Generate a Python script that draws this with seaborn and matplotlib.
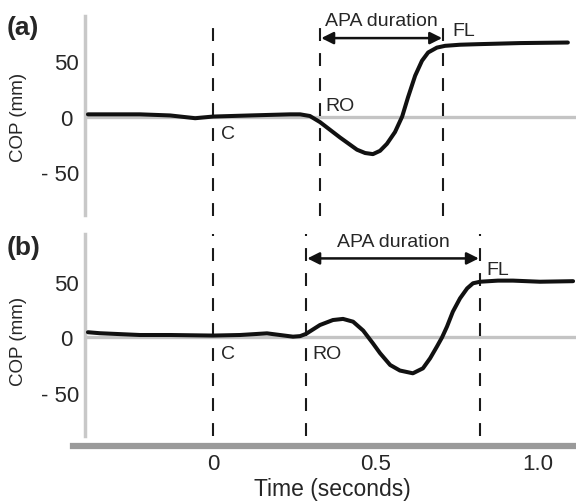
import numpy as np
import pandas as pd
import matplotlib
matplotlib.use("Agg")
import matplotlib.pyplot as plt
import seaborn as sns

# ---------------- data ----------------
t_a = [-0.385, -0.225, -0.132, -0.055, 0.0, 0.114, 0.237, 0.268, 0.298, 0.329,
       0.360, 0.391, 0.443, 0.468, 0.492, 0.514, 0.535, 0.560, 0.582, 0.600,
       0.622, 0.643, 0.662, 0.689, 0.714, 0.760, 0.815, 0.945, 1.092]
cop_a = [2, 2, 1, -1.5, 0, 1, 2, 2, 0.5, -5,
         -12, -19, -30, -33, -34, -31, -24.7, -14, 0, 17.4,
         37, 50.5, 58, 62.4, 64, 65, 65.5, 66.5, 67]

t_b = [-0.385, -0.348, -0.225, -0.132, 0.0, 0.083, 0.166, 0.206, 0.246, 0.268,
       0.286, 0.329, 0.369, 0.400, 0.431, 0.462, 0.492, 0.514, 0.545, 0.575,
       0.615, 0.646, 0.668, 0.689, 0.705, 0.720, 0.738, 0.760, 0.782, 0.800,
       0.822, 0.877, 0.923, 1.006, 1.108]
cop_b = [4.5, 3.6, 2, 2, 1.5, 2, 3.5, 2, 0.5, 1,
         3, 11, 15.5, 16.5, 14, 6, -5.5, -14.4, -25, -30,
         -32.5, -28, -19, -8.4, 0, 9.6, 23, 35, 44, 48.6,
         50, 51, 51, 50, 50.5]

events_a = {"C": 0.0, "RO": 0.329, "FL": 0.709}
events_b = {"C": 0.0, "RO": 0.286, "FL": 0.822}

y_ticks = [-50, 0, 50]
y_ticklabels = ["- 50  ", "0", "50"]
x_ticks = [0, 0.5, 1.0]
x_ticklabels = ["0", "0.5", "1.0"]

# ---------------- style ----------------
sns.set_style("white")
plt.rcParams["font.family"] = ["Liberation Sans", "DejaVu Sans"]

W, H = 576, 502
fig = plt.figure(figsize=(W / 100, H / 100), dpi=100)

def fx(px):
    return px / W

def fy(py):
    return 1 - py / H

left_px, right_px = 73, 576
xlim = (-0.431, 1.117)
spine_x = -0.394

ax_a = fig.add_axes([fx(left_px), fy(217), fx(right_px - left_px), (217 - 17) / H])
ax_b = fig.add_axes([fx(left_px), fy(447), fx(right_px - left_px), (447 - 235) / H])

df_a = pd.DataFrame({"t": t_a, "cop": cop_a})
df_b = pd.DataFrame({"t": t_b, "cop": cop_b})

zero_color = "#c4c4c4"
spine_color = "#c8c8c8"
dash = (0, (6.2, 5.8))
lab_fs = 14

for ax, df, ev, ylim, sp_bounds, vl in [
    (ax_a, df_a, events_a, (-90, 91), (-89, 91), (-90, 91)),
    (ax_b, df_b, events_b, (-98, 93), (-89, 93), (-89, 93)),
]:
    ax.set_xlim(*xlim)
    ax.set_ylim(*ylim)
    ax.hlines(0, spine_x, xlim[1], color=zero_color, lw=2.4, zorder=1)
    for name, tv in ev.items():
        ax.vlines(tv, vl[0], vl[1], color="#1a1a1a", lw=1.5, linestyle=dash, zorder=2)
    sns.lineplot(data=df, x="t", y="cop", ax=ax, color="#111111", lw=2.9,
                 zorder=3, sort=False, estimator=None)
    for s in ["top", "right"]:
        ax.spines[s].set_visible(False)
    ax.spines["left"].set_position(("data", spine_x))
    ax.spines["left"].set_bounds(*sp_bounds)
    ax.spines["left"].set_color(spine_color)
    ax.spines["left"].set_linewidth(2.5)
    ax.set_yticks(y_ticks, labels=y_ticklabels)
    ax.tick_params(axis="y", length=0, pad=13.5, labelsize=16)
    for tl in ax.get_yticklabels():
        tl.set_ha("center")
    ax.set_ylabel("COP (mm)", fontsize=13.5, va="center")
    ax.yaxis.set_label_coords((19 - left_px) / (right_px - left_px), 0.5)
    ax.set_xlabel("")
    ax.patch.set_alpha(0)

    ax.text(ev["C"] + 0.025, -15, "C", fontsize=lab_fs, va="center", ha="left")
    ax.annotate("", xy=(ev["FL"] - 0.004, 71), xytext=(ev["RO"] + 0.004, 71),
                arrowprops=dict(arrowstyle="<|-|>", lw=1.8, color="#111111",
                                mutation_scale=18, shrinkA=0, shrinkB=0))
    ax.text((ev["RO"] + ev["FL"]) / 2, 86.5, "APA duration", fontsize=lab_fs,
            va="center", ha="center")

ax_a.text(events_a["FL"] + 0.027, 77.5, "FL", fontsize=lab_fs, va="center", ha="left")
ax_b.text(events_b["FL"] + 0.02, 61, "FL", fontsize=lab_fs, va="center", ha="left")
ax_a.text(events_a["RO"] + 0.016, 10, "RO", fontsize=lab_fs, va="center", ha="left")
ax_b.text(events_b["RO"] + 0.021, -15, "RO", fontsize=lab_fs, va="center", ha="left")

ax_a.spines["bottom"].set_visible(False)
ax_a.set_xticks([])

ax_b.spines["bottom"].set_color("#9a9a9a")
ax_b.spines["bottom"].set_linewidth(4.5)
ax_b.set_xticks(x_ticks, labels=x_ticklabels)
ax_b.tick_params(axis="x", length=0, pad=5, labelsize=16)
ax_b.set_xlabel("Time (seconds)", fontsize=16.5, va="center")
ax_b.xaxis.set_label_coords((332 - left_px) / (right_px - left_px), -(490 - 447) / (447 - 235))

fig.text(fx(7), fy(28), "(a)", fontsize=19, fontweight="bold", va="center", ha="left")
fig.text(fx(7), fy(248), "(b)", fontsize=19, fontweight="bold", va="center", ha="left")

fig.savefig("out.png", dpi=100)
